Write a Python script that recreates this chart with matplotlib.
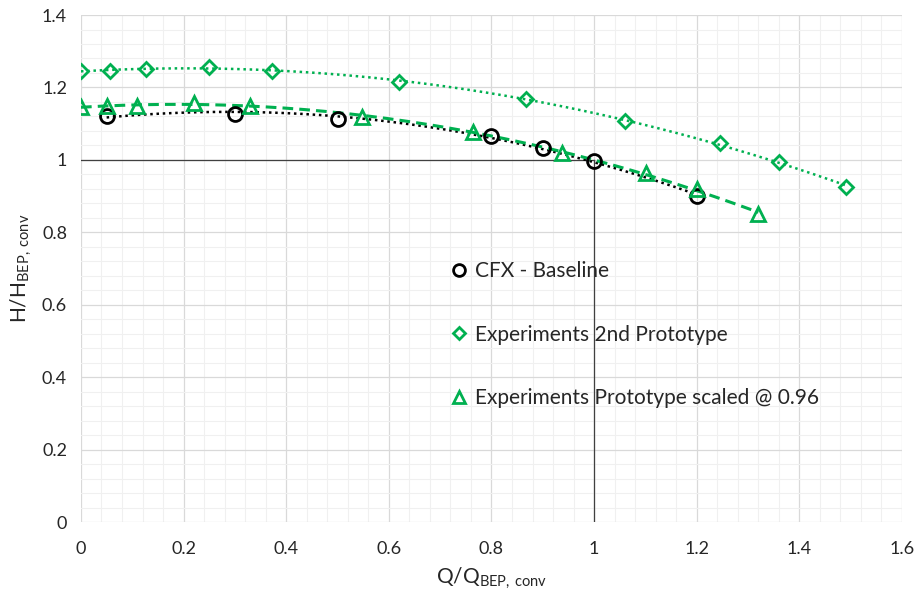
import numpy as np
from matplotlib import pyplot as plt
from matplotlib.ticker import MultipleLocator

# CFX - Baseline
cfx_q = [0.05, 0.30, 0.50, 0.80, 0.90, 1.00, 1.20]
cfx_h = [1.122, 1.127, 1.113, 1.067, 1.034, 0.996, 0.899]

# Experiments 2nd Prototype
exp2_q = [0.0, 0.057, 0.127, 0.25, 0.372, 0.62, 0.867, 1.06, 1.246, 1.36, 1.49]
exp2_h = [1.246, 1.246, 1.251, 1.257, 1.246, 1.215, 1.168, 1.107, 1.047, 0.995, 0.925]

# Experiments Prototype scaled @ 0.96
scl_q = [0.0, 0.05, 0.11, 0.22, 0.33, 0.548, 0.764, 0.937, 1.101, 1.20, 1.32]
scl_h = [1.146, 1.149, 1.149, 1.157, 1.149, 1.119, 1.077, 1.019, 0.964, 0.92, 0.850]

green = '#00B050'
plt.rcParams['font.family'] = ['Lato', 'DejaVu Sans']
plt.rcParams['mathtext.default'] = 'regular'

fig = plt.figure(figsize=(9.16, 6.03), dpi=100)
ax = fig.add_axes([0.0884, 0.1343, 0.8963, 0.8408])

ax.set_xlim(0, 1.6)
ax.set_ylim(0, 1.4)
ax.xaxis.set_major_locator(MultipleLocator(0.2))
ax.yaxis.set_major_locator(MultipleLocator(0.2))
ax.xaxis.set_minor_locator(MultipleLocator(0.04))
ax.yaxis.set_minor_locator(MultipleLocator(0.04))
ax.grid(which='major', color='#d9d9d9', linewidth=0.9)
ax.grid(which='minor', color='#f0f0f0', linewidth=0.8)
ax.set_axisbelow(True)
for s in ax.spines.values():
    s.set_visible(False)
ax.tick_params(which='both', length=0, labelsize=13, colors='#262626')
ax.tick_params(axis='x', pad=14)
ax.tick_params(axis='y', pad=10)
ax.xaxis.set_major_formatter(plt.FuncFormatter(lambda v, p: ('%g' % round(v, 2))))
ax.yaxis.set_major_formatter(plt.FuncFormatter(lambda v, p: ('%g' % round(v, 2))))

# reference lines at BEP
ax.plot([0, 1], [1, 1], color='#404040', linewidth=0.9, zorder=2)
ax.plot([1, 1], [0, 1], color='#404040', linewidth=0.9, zorder=2)

# polynomial trendlines
def trend(q, h, **kw):
    c = np.polyfit(q, h, 2)
    xs = np.linspace(min(q), max(q), 200)
    ax.plot(xs, np.polyval(c, xs), zorder=3, **kw)

trend(cfx_q, cfx_h, color='black', linestyle=(0, (1, 1.5)), linewidth=1.8)
trend(exp2_q, exp2_h, color=green, linestyle=(0, (1, 1.5)), linewidth=1.8)
trend(scl_q, scl_h, color=green, linestyle=(0, (3.5, 2)), linewidth=2.2)

ax.plot(cfx_q, cfx_h, 'o', mfc='none', mec='black', ms=10, mew=2,
        label='CFX - Baseline', zorder=4)
ax.plot(exp2_q, exp2_h, 'D', mfc='none', mec=green, ms=7.5, mew=2,
        label='Experiments 2nd Prototype', zorder=4)
ax.plot(scl_q, scl_h, '^', mfc='none', mec=green, ms=10, mew=2,
        label='Experiments Prototype scaled @ 0.96', zorder=4)

ax.legend(loc='upper left', bbox_to_anchor=(0.428, 0.552), frameon=False,
          fontsize=15, labelspacing=2.1, handlelength=0.8, handletextpad=0.35,
          markerscale=0.85, labelcolor='#262626')

ax.set_xlabel('Q/Q$_{BEP,\\,conv}$', fontsize=15, labelpad=6, color='#262626')
ax.set_ylabel('H/H$_{BEP,\\,conv}$', fontsize=15, labelpad=6, color='#262626')

fig.savefig('out.png', dpi=100)
